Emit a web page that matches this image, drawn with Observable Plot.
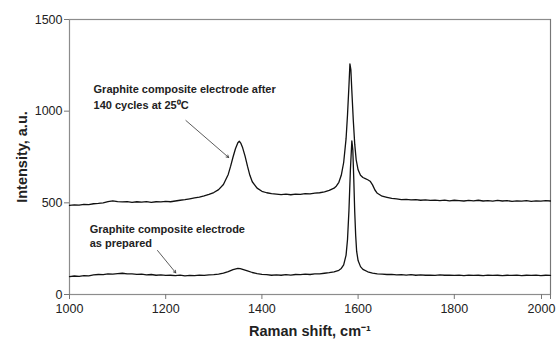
<!DOCTYPE html>
<html><head><meta charset="utf-8">
<script src="https://cdn.jsdelivr.net/npm/d3@7"></script>
<script src="https://cdn.jsdelivr.net/npm/@observablehq/plot@0.6"></script>
<style>
body{margin:0;background:#fff;}
#chart svg{font-family:"Liberation Sans",Arial,sans-serif;}
</style></head><body><div id="chart"></div>
<script>
// Spectrum after 140 cycles at 25 °C
const cycledShift = [1000,1010,1020,1030,1040,1050,1060,1070,1080,1090,1100,1110,1120,1130,1140,1150,1160,1170,1180,1190,1200,1210,1220,1230,1240,1250,1260,1270,1280,1290,1300,
1310,1320,1330,1335,1340,1345,1350,1353,1356,1360,1365,1370,1375,1380,1390,
1400,1410,1420,1430,1440,1450,1460,1470,1480,1490,1500,1510,1520,1530,1540,1550,
1555,1560,1565,1570,1575,1578,1581,1583,1585,1587,1590,1593,1596,1600,1605,1610,1615,1620,1625,1630,1635,1640,
1650,1660,1670,1680,1690,1700,1710,1720,1730,1740,1750,1760,1770,1780,1790,1800,1810,1820,1830,1840,1850,1860,1870,1880,1890,1900,1910,1920,1930,1940,1950,1960,1970,1980,1990,2000];
const cycledIntensity = [486,489,487,492,490,495,497,500,506,511,507,505,507,503,506,504,507,503,506,505,508,506,510,514,517,522,527,531,538,546,556,
572,600,655,700,750,795,828,836,826,800,755,700,650,615,580,
563,555,550,548,545,547,544,548,546,550,549,553,555,560,568,580,
592,612,650,720,850,980,1140,1258,1225,1110,950,820,735,680,650,638,632,626,618,598,570,552,
536,530,524,522,518,519,516,518,514,516,513,515,512,515,511,514,512,510,513,511,514,510,512,509,513,510,512,508,511,509,512,508,511,509,512,510];

// Spectrum as prepared
const preparedShift = [1000,1010,1020,1030,1040,1050,1060,1070,1080,1090,1100,1110,1120,1130,1140,1150,1160,1170,1180,1190,1200,1210,1220,1230,1240,1250,1260,1270,1280,1290,1300,
1310,1320,1330,1340,1350,1355,1360,1370,1380,1390,
1400,1410,1420,1430,1440,1450,1460,1470,1480,1490,1500,1510,1520,1530,1540,1550,
1560,1565,1570,1575,1578,1581,1584,1587,1589,1591,1593,1595,1597,1600,1605,1610,1620,1630,1640,
1650,1660,1670,1680,1690,1700,1710,1720,1730,1740,1750,1760,1770,1780,1790,1800,1810,1820,1830,1840,1850,1860,1870,1880,1890,1900,1910,1920,1930,1940,1950,1960,1970,1980,1990,2000];
const preparedIntensity = [98,101,99,103,102,107,109,108,112,111,114,116,113,112,110,111,107,109,105,107,104,105,103,106,102,104,103,106,104,107,108,
111,116,125,136,142,141,137,129,120,114,
110,108,105,107,105,108,106,109,108,111,109,112,113,116,119,124,
132,142,162,215,300,460,680,838,790,630,450,320,235,185,152,137,124,117,113,
111,109,110,107,108,106,108,105,107,105,106,104,107,105,106,104,106,103,106,104,105,103,106,104,105,103,105,104,106,103,105,104,106,103,105,104];

const xTicks = [1000,1200,1400,1600,1800];
const xLastTick = [2000];
const yTicks = [0,500,1000,1500];
const xLabel = "Raman shift, cm\u207B\u00B9";
const yLabel = "Intensity, a.u.";
const labelCycled = "Graphite composite electrode after\n140 cycles at 25\u2070C";
const labelPrepared = "Graphite composite electrode\nas prepared";

const cycled = cycledShift.map((x, i) => ({x, y: cycledIntensity[i]}));
const prepared = preparedShift.map((x, i) => ({x, y: preparedIntensity[i]}));

const chart = Plot.plot({
  width: 557,
  height: 344,
  marginLeft: 69,
  marginRight: 7,
  marginTop: 19,
  marginBottom: 50,
  style: {fontSize: "12.5px", fontFamily: "'Liberation Sans', Arial, sans-serif", color: "#222"},
  x: {domain: [1000, 2000]},
  y: {domain: [0, 1500]},
  marks: [
    Plot.frame({stroke: "#8c8c8c", strokeWidth: 1.2}),
    Plot.axisX({ticks: xTicks, tickFormat: d => String(d), tickSize: 5, tickPadding: 5, stroke: "#777", fill: "#222", label: null}),
    Plot.axisX({ticks: xLastTick, tickFormat: d => String(d), tickSize: 5, tickPadding: 5, stroke: "#777", fill: "#222", label: null, dx: -9}),
    Plot.tickX(xLastTick, {x: d => d, y1: 0, y2: 0, stroke: "#777", insetBottom: -5}),
    Plot.axisY({ticks: yTicks, tickFormat: d => String(d), tickSize: 5, tickPadding: 2, stroke: "#777", fill: "#222", label: null}),
    Plot.line(cycled, {x: "x", y: "y", stroke: "#111", strokeWidth: 1.3}),
    Plot.line(prepared, {x: "x", y: "y", stroke: "#111", strokeWidth: 1.3}),
    Plot.text([labelCycled], {x: 1050, y: 1162, text: d => d, textAnchor: "start", lineAnchor: "top", lineHeight: 1.45, fontSize: 11, fontWeight: "bold", fill: "#222"}),
    Plot.text([labelPrepared], {x: 1042, y: 393, text: d => d, textAnchor: "start", lineAnchor: "top", lineHeight: 1.3, fontSize: 11, fontWeight: "bold", fill: "#222"}),
    Plot.arrow([{x1: 1242, y1: 949, x2: 1331, y2: 747}], {x1: "x1", y1: "y1", x2: "x2", y2: "y2", stroke: "#333", strokeWidth: 0.8, headLength: 5}),
    Plot.arrow([{x1: 1183, y1: 240, x2: 1221, y2: 118}], {x1: "x1", y1: "y1", x2: "x2", y2: "y2", stroke: "#333", strokeWidth: 0.8, headLength: 5}),
    Plot.text([yLabel], {frameAnchor: "left", textAnchor: "middle", dx: -47, rotate: -90, text: d => d, fontSize: 14.5, fontWeight: "bold", fill: "#222"}),
    Plot.text([xLabel], {frameAnchor: "bottom", textAnchor: "middle", dy: 41, text: d => d, fontSize: 14.5, fontWeight: "bold", fill: "#222"})
  ]
});
document.getElementById("chart").appendChild(chart);
</script>
</body></html>
